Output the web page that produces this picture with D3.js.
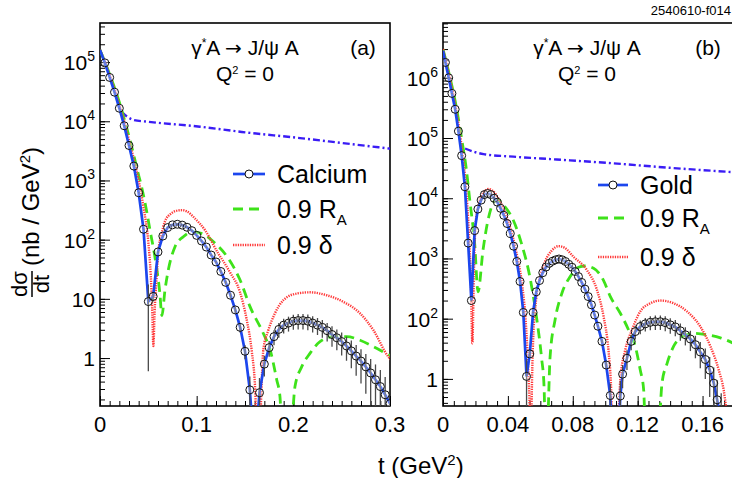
<!DOCTYPE html>
<html><head><meta charset="utf-8">
<script src="https://cdn.jsdelivr.net/npm/d3@7"></script>
<style>body{margin:0;background:#fff} text{font-family:"Liberation Sans",Arial,Helvetica,sans-serif;fill:#000}</style>
</head><body><svg id="c" width="732" height="478"></svg>
<script>
// ---------- Panel (a): Calcium ----------
const caT = [0.005,0.010,0.015,0.020,0.025,0.030,0.035,0.040,0.045,0.050,0.055,0.060,0.065,0.070,0.075,0.080,0.085,0.090,0.095,0.100,0.105,0.110,0.115,0.120,0.125,0.130,0.135,0.140,0.145,0.150,0.155,0.160,0.165,0.170,0.175,0.180,0.185,0.190,0.195,0.200,0.205,0.210,0.215,0.220,0.225,0.230,0.235,0.240,0.245,0.250,0.255,0.260,0.265,0.270,0.275,0.280,0.285,0.290,0.295,0.300];
const caV = [97000,55000,31000,16600,8400,3900,1750,620,150,9,11,62,115,160,178,182,176,162,142,118,95,75,55,42,29,19,11.5,6.5,3.3,1.3,0.29,0.02,0.26,0.79,1.5,2.3,3.05,3.6,3.9,4.2,4.3,4.3,4.2,3.9,3.6,3.3,2.9,2.5,2.2,1.9,1.6,1.32,1.08,0.89,0.71,0.56,0.43,0.33,0.24,0.17];
const caErr = [1900,1100,620,330,170,80,35,12,3,8.4,2,2,3,4,4,4,4,4,4,3,3,3,2,2,1.5,1.2,1,0.8,0.6,0.35,0.2,0,0.2,0.3,0.45,0.65,0.85,1.0,1.1,1.2,1.25,1.25,1.25,1.2,1.15,1.1,1.0,0.95,0.85,0.8,0.7,0.65,0.58,0.52,0.46,0.4,0.35,0.3,0.24,0.2];
const caStartT = 0, caStartV = 160000;
const caDeltaT = [0,0.005,0.010,0.015,0.020,0.025,0.030,0.035,0.040,0.045,0.050,0.0525,0.054,0.0552,0.0565,0.0585,0.0603,0.0635,0.067,0.074,0.080,0.085,0.090,0.098,0.1086,0.1224,0.128,0.1345,0.1448,0.1517,0.157,0.1603,0.1625,0.1645,0.169,0.174,0.181,0.1897,0.2034,0.2172,0.2345,0.2517,0.269,0.2828,0.2983,0.302];
const caDeltaV = [160000,102000,60000,35000,19000,10000,4800,2300,1000,350,90,25,7,1.6,6,22,62,120,200,280,310,315,300,230,145,58,42,28,13,4.5,1.3,0.35,0.05,0.05,1.4,2.9,5.7,9.5,12.3,12.9,11.5,8.9,5.7,2.96,1.05,0.9];
const caRaT = [0,0.010,0.020,0.025,0.0328,0.0386,0.043,0.0483,0.0517,0.0569,0.062,0.064,0.0672,0.0707,0.0776,0.0862,0.0948,0.105,0.119,0.1328,0.1448,0.1552,0.169,0.1759,0.1828,0.1862,0.1885,0.197,0.2017,0.2086,0.2172,0.2276,0.2414,0.2552,0.269,0.2828,0.300];
const caRaV = [160000,62000,21000,11000,3700,1500,780,300,145,50,12,5.2,14,31,76,112,135,128,87,48,21,7.4,2.6,1.4,0.43,0.22,0.05,0.05,0.33,0.71,1.2,1.9,2.3,2.3,2.0,1.56,1.1];
const caIncT = [0.0224,0.028,0.035,0.050,0.1034,0.1466,0.207,0.250,0.300];
const caIncV = [14400,12000,10500,9800,8100,6600,5200,4300,3450];

// ---------- Panel (b): Gold ----------
const auT = [0.0015,0.0035,0.0055,0.0075,0.0095,0.0115,0.0135,0.0155,0.0175,0.0195,0.0215,0.0235,0.0255,0.0275,0.0295,0.0315,0.0335,0.0355,0.0375,0.0395,0.0415,0.0435,0.0455,0.0475,0.0495,0.0515,0.0535,0.0555,0.0575,0.0595,0.0615,0.0635,0.0655,0.0675,0.0695,0.0715,0.0735,0.0755,0.0775,0.0795,0.0815,0.0835,0.0855,0.0875,0.0895,0.0915,0.0935,0.0955,0.0980,0.1006,0.1031,0.1060,0.1093,0.1107,0.1134,0.1160,0.1185,0.1216,0.1247,0.1278,0.1309,0.1340,0.1370,0.1401,0.1432,0.1463,0.1494,0.1525,0.1556,0.1586,0.1617,0.1644,0.1669,0.1690,0.1715];
const auV = [1800000,1000000,550000,300000,130000,51000,15500,1800,200,2900,6600,9300,11500,12000,11500,10000,8600,6800,5200,3800,2600,1600,890,415,127,11,26,127,280,430,580,720,830,900,950,980,950,890,800,715,605,500,400,310,233,170,115,75,42,17,5.3,0.05,5.2,12,22,42,61,74,82,87,89,89,86,79,73,63,54,46,37,28,21,14,8.5,4.5,1.8];
const auErr = [36000,20000,11000,6000,2600,1000,310,40,8,60,130,190,230,240,230,200,170,140,100,80,55,35,20,10,4,10,3,4,6,9,12,15,17,18,19,20,19,18,16,15,12,10,8,7,6,5,4,3,2.5,2,3,0,4,5,8,12,16,19,21,23,24,24,24,23,22,20,18,17,15,13,11,9,7,5,4];
const auStartT = 0, auStartV = 2800000;
const auDeltaT = [0,0.004,0.008,0.012,0.014,0.016,0.0172,0.0181,0.019,0.020,0.022,0.025,0.028,0.031,0.034,0.037,0.040,0.043,0.046,0.049,0.051,0.0525,0.0535,0.054,0.0545,0.0555,0.0575,0.0595,0.063,0.067,0.0712,0.075,0.0804,0.0887,0.0949,0.099,0.102,0.1035,0.1047,0.1072,0.1093,0.1123,0.1165,0.1216,0.1278,0.134,0.1422,0.1504,0.1586,0.1648,0.170,0.173,0.176];
const auDeltaV = [3000000,1050000,310000,55000,17000,2500,400,39,500,3500,7800,12500,14200,13000,10000,7000,4300,2300,1000,330,90,15,2.5,0.3,2.5,40,220,450,900,1350,1600,1500,1070,640,300,108,30,8.5,1,1,9.6,30,65,132,180,200,180,132,74,35,14,6.6,1.5];
const auRaT = [0,0.004,0.008,0.012,0.0144,0.0165,0.0195,0.0216,0.0247,0.0278,0.0331,0.038,0.0432,0.0483,0.0535,0.0576,0.0607,0.0623,0.0632,0.064,0.066,0.0691,0.0733,0.0784,0.0835,0.0877,0.0928,0.099,0.1031,0.1093,0.1144,0.1185,0.1216,0.1237,0.1250,0.1325,0.135,0.1381,0.1422,0.1473,0.1545,0.1628,0.171,0.180];
const auRaV = [3000000,1100000,350000,80000,30000,9300,1800,280,1400,4400,9600,7300,4400,1800,500,108,23,7.4,1,1,23,96,265,500,715,750,690,430,235,123,65,35,14,6.6,1,1,8.5,18,35,50,57,54,48,38];
const auIncT = [0.0136,0.020,0.025,0.0434,0.070,0.105,0.140,0.180];
const auIncV = [67000,58000,54000,49000,44000,38000,32000,27000];

// ---------- axes / labels ----------
const aXTicks = [0,0.1,0.2,0.3], aXLabels = ["0","0.1","0.2","0.3"];
const bXTicks = [0,0.04,0.08,0.12,0.16], bXLabels = ["0","0.04","0.08","0.12","0.16"];
const aYTicks = [1,10,100,1000,10000,100000], aYLabels = ["1","10","10^2","10^3","10^4","10^5"];
const bYTicks = [10,100,1000,10000,100000,1000000], bYLabels = ["1","10^2","10^3","10^4","10^5","10^6"];

const svg = d3.select("#c");
const C = {blue:"#1c46ee", green:"#3ee21a", red:"#ff3a3a", inc:"#3a1cf5"};

function panel(p){
  const g = svg.append("g");
  const [x0,x1] = p.x.range(), [y0,y1] = p.y.range();
  const cid = "clip"+p.id;
  svg.append("clipPath").attr("id",cid).append("rect")
     .attr("x",x0).attr("y",y1).attr("width",x1-x0).attr("height",y0-y1);
  const minorX = d3.range(0, p.x.domain()[1]+1e-9, p.xMinor);
  g.append("g").attr("transform",`translate(0,${y0})`)
    .call(d3.axisBottom(p.x).tickValues(minorX).tickSize(-5).tickFormat(""))
    .call(a=>{a.select(".domain").remove(); a.selectAll("line").attr("stroke","#000");});
  g.append("g").attr("transform",`translate(0,${y0})`)
    .call(d3.axisBottom(p.x).tickValues(p.xTicks).tickSize(-10).tickFormat(""))
    .call(a=>{a.select(".domain").remove(); a.selectAll("line").attr("stroke","#000");});
  const [dlo,dhi] = p.y.domain();
  const minorY = [];
  for(let e=Math.floor(Math.log10(dlo)); e<=Math.ceil(Math.log10(dhi)); e++)
    for(let k=1;k<10;k++){const v=k*Math.pow(10,e); if(v>=dlo&&v<=dhi) minorY.push(v);}
  g.append("g").attr("transform",`translate(${x0},0)`)
    .call(d3.axisLeft(p.y).tickValues(minorY).tickSize(-5).tickFormat(""))
    .call(a=>{a.select(".domain").remove(); a.selectAll("line").attr("stroke","#000");});
  g.append("g").attr("transform",`translate(${x0},0)`)
    .call(d3.axisLeft(p.y).tickValues(p.yTicks).tickSize(-10).tickFormat(""))
    .call(a=>{a.select(".domain").remove(); a.selectAll("line").attr("stroke","#000");});
  p.xTicks.forEach((t,i)=>{
    g.append("text").attr("x",p.x(t)).attr("y",432).attr("text-anchor","middle")
     .attr("font-size",22).text(p.xLabels[i]);
  });
  p.yTicks.forEach((t,i)=>{
    const lab = p.yLabels[i].split("^");
    const tx = g.append("text").attr("x",x0-5).attr("y",p.y(t)+8).attr("text-anchor","end").attr("font-size",21);
    tx.append("tspan").text(lab[0]);
    if(lab[1]) tx.append("tspan").attr("font-size",14).attr("dy",-9).text(lab[1]);
  });
  const cg = svg.append("g").attr("clip-path",`url(#${cid})`);
  const smooth = d3.line().x(d=>p.x(d[0])).y(d=>p.y(d[1])).curve(d3.curveMonotoneX);
  const poly = d3.line().x(d=>p.x(d[0])).y(d=>p.y(d[1]));
  const zip=(a,b)=>a.map((v,i)=>[v,b[i]]);
  cg.append("path").attr("d",smooth(zip(p.incT,p.incV))).attr("fill","none")
    .attr("stroke",C.inc).attr("stroke-width",2.4).attr("stroke-dasharray","7 3 2 3");
  cg.append("path").attr("d",smooth(zip(p.raT,p.raV))).attr("fill","none")
    .attr("stroke",C.green).attr("stroke-width",2.8).attr("stroke-dasharray","10 6");
  cg.append("path").attr("d",smooth(zip(p.deT,p.deV))).attr("fill","none")
    .attr("stroke",C.red).attr("stroke-width",2.4).attr("stroke-dasharray","1.3 1.1");
  const pts = zip(p.dT,p.dV);
  cg.append("path").attr("d",poly([[p.st,p.sv]].concat(pts))).attr("fill","none")
    .attr("stroke",C.blue).attr("stroke-width",2.7);
  pts.forEach((d,i)=>{
    const e = p.dE[i]; if(!e) return;
    cg.append("line").attr("x1",p.x(d[0])).attr("x2",p.x(d[0]))
      .attr("y1",p.y(Math.max(d[1]-e,1e-4))).attr("y2",p.y(d[1]+e))
      .attr("stroke","#4a4a4a").attr("stroke-width",1.3);
  });
  cg.selectAll("circle.pt").data(pts).enter().append("circle")
    .attr("cx",d=>p.x(d[0])).attr("cy",d=>p.y(d[1])).attr("r",4)
    .attr("fill","rgba(255,255,255,0.3)").attr("stroke","#111").attr("stroke-width",1);
  g.append("rect").attr("x",x0).attr("y",y1).attr("width",x1-x0).attr("height",y0-y1)
    .attr("fill","none").attr("stroke","#000").attr("stroke-width",1.6);
  const t1 = svg.append("text").attr("x",p.tx).attr("y",55).attr("text-anchor","middle").attr("font-size",21);
  t1.append("tspan").text("γ");
  t1.append("tspan").attr("font-size",12).attr("dy",-8).text("*");
  t1.append("tspan").attr("dy",8).text("A ");
  t1.append("tspan").attr("font-family","DejaVu Sans").attr("font-size",20).text("→");
  t1.append("tspan").text(" J/ψ A");
  const t2 = svg.append("text").attr("x",p.tx).attr("y",81).attr("text-anchor","middle").attr("font-size",21);
  t2.append("tspan").text("Q");
  t2.append("tspan").attr("font-size",11).attr("dy",-7).text("2");
  t2.append("tspan").attr("dy",7).text(" = 0");
  svg.append("text").attr("x",p.px).attr("y",55).attr("text-anchor","middle").attr("font-size",21).text(p.tag);
  const L = p.leg;
  svg.append("line").attr("x1",L.x1).attr("x2",L.x2).attr("y1",L.y[0]).attr("y2",L.y[0])
    .attr("stroke",C.blue).attr("stroke-width",2.7);
  svg.append("circle").attr("cx",(L.x1+L.x2)/2).attr("cy",L.y[0]).attr("r",4)
    .attr("fill","#fff").attr("stroke","#111");
  svg.append("line").attr("x1",L.x1).attr("x2",L.x2).attr("y1",L.y[1]).attr("y2",L.y[1])
    .attr("stroke",C.green).attr("stroke-width",2.8).attr("stroke-dasharray","10 6");
  svg.append("line").attr("x1",L.x1).attr("x2",L.x2).attr("y1",L.y[2]).attr("y2",L.y[2])
    .attr("stroke",C.red).attr("stroke-width",2.4).attr("stroke-dasharray","1.3 1.1");
  svg.append("text").attr("x",L.tx).attr("y",L.y[0]+9).attr("font-size",25).text(p.name);
  const r = svg.append("text").attr("x",L.tx).attr("y",L.y[1]+9).attr("font-size",25);
  r.append("tspan").text("0.9 R");
  r.append("tspan").attr("font-size",15).attr("dy",7).text("A");
  svg.append("text").attr("x",L.tx).attr("y",L.y[2]+9).attr("font-size",25).text("0.9 δ");
}

panel({id:"a", x:d3.scaleLinear([0,0.3],[100,390]), y:d3.scaleLog([Math.pow(10,-0.81),Math.pow(10,5.66)],[406,23]),
  xTicks:aXTicks, xLabels:aXLabels, xMinor:0.01, yTicks:aYTicks, yLabels:aYLabels,
  dT:caT, dV:caV, dE:caErr, st:caStartT, sv:caStartV, deT:caDeltaT, deV:caDeltaV, raT:caRaT, raV:caRaV,
  incT:caIncT, incV:caIncV, tx:245, px:363, tag:"(a)", name:"Calcium",
  leg:{x1:233,x2:265,tx:277,y:[174,209,245]}});
panel({id:"b", x:d3.scaleLinear([0,0.18],[443,735]), y:d3.scaleLog([Math.pow(10,0.55),Math.pow(10,6.91)],[406,23]),
  xTicks:bXTicks, xLabels:bXLabels, xMinor:0.02/3, yTicks:bYTicks, yLabels:bYLabels,
  dT:auT, dV:auV, dE:auErr, st:auStartT, sv:auStartV, deT:auDeltaT, deV:auDeltaV, raT:auRaT, raV:auRaV,
  incT:auIncT, incV:auIncV, tx:587, px:708, tag:"(b)", name:"Gold",
  leg:{x1:598,x2:628,tx:640,y:[185,218,257]}});

const yl = svg.append("g").attr("transform","translate(31,284) rotate(-90)");
yl.append("text").attr("x",0).attr("y",-4).attr("text-anchor","middle").attr("font-size",22).text("dσ");
yl.append("text").attr("x",0).attr("y",18).attr("text-anchor","middle").attr("font-size",22).text("dt");
yl.append("line").attr("x1",-13).attr("x2",13).attr("y1",1).attr("y2",1).attr("stroke","#000").attr("stroke-width",1.5);
const yt = yl.append("text").attr("x",18).attr("y",8).attr("font-size",24);
yt.append("tspan").text("(nb / GeV");
yt.append("tspan").attr("font-size",15).attr("dy",-9).text("2");
yt.append("tspan").attr("dy",9).text(")");
const xt = svg.append("text").attr("x",378).attr("y",474).attr("font-size",24);
xt.append("tspan").text("t (GeV");
xt.append("tspan").attr("font-size",15).attr("dy",-9).text("2");
xt.append("tspan").attr("dy",9).text(")");
svg.append("text").attr("x",731).attr("y",15).attr("text-anchor","end").attr("font-size",13).text("2540610-f014");
</script></body></html>
